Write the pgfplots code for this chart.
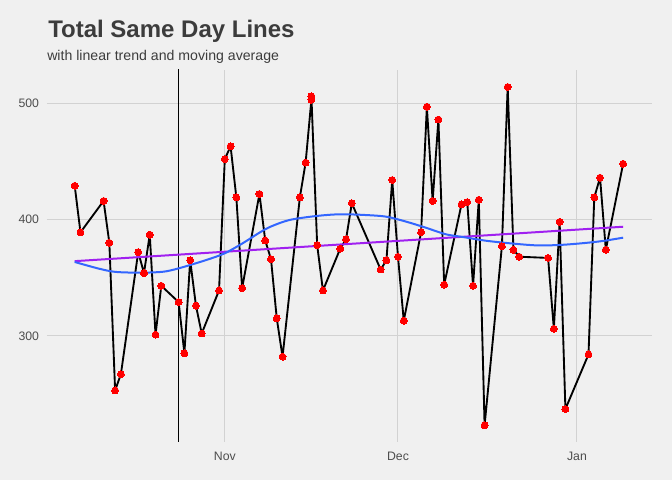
\documentclass[border=0pt]{standalone}
\usepackage{pgfplots}
\pgfplotsset{compat=1.18}
\usepackage{fontspec}
\setmainfont{Liberation Sans}
\definecolor{bg}{HTML}{F0F0F0}
\definecolor{gridc}{HTML}{D2D2D2}
\definecolor{titlec}{HTML}{3C3C3C}
\definecolor{tickc}{HTML}{4D4D4D}
\definecolor{smoothblue}{HTML}{3366FF}
\definecolor{trendpurple}{HTML}{A020F0}
\begin{document}
\begin{tikzpicture}
\fill[bg] (0,0) rectangle (504pt,360pt);
\node[anchor=base west, inner sep=0pt, text=titlec, font=\fontsize{18pt}{21pt}\selectfont\bfseries] at (36pt,331.7pt) {Total Same Day Lines};
\node[anchor=base west, inner sep=0pt, text=titlec, font=\fontsize{10.6pt}{12pt}\selectfont] at (35.25pt,314.5pt) {with linear trend and moving average};
\begin{axis}[
  at={(35.25pt,28.7pt)}, anchor=south west,
  scale only axis, width=453.75pt, height=278.8pt,
  xmin=-30.8, xmax=74, ymin=208.9, ymax=528.6,
  axis line style={draw=none},
  tick style={draw=none},
  xtick={0,30,61}, xticklabels={Nov,Dec,Jan},
  ytick={300,400,500},
  grid=major,
  major grid style={gridc, line width=0.75pt},
  ticklabel style={text=tickc, font=\fontsize{9.2pt}{11pt}\selectfont, inner sep=0pt},
  xticklabel style={anchor=north, yshift=-7.7pt},
  yticklabel style={anchor=east, xshift=-5.8pt},
  /pgf/number format/assume math mode=true,
  clip=true,
]
\addplot[black, line width=0.75pt] coordinates {(-8,150) (-8,600)};
\addplot[black, line width=1.4pt, line join=round, line cap=round, mark=*, mark size=2.6pt, mark options={fill=red, draw=red, line width=0pt}] coordinates {
(-26,429) (-25,389) (-21,416) (-20,380) (-19,253) (-18,267) (-15,372) (-14,354) (-13,387) (-12,301) (-11,343)
(-8,329) (-7,285) (-6,365) (-5,326) (-4,302) (-1,339) (0,452) (1,463) (2,419) (3,341)
(6,422) (7,382) (8,366) (9,315) (10,282) (13,419) (14,449) (15,503) (15,506) (16,378) (17,339)
(20,375) (21,383) (22,414) (27,357) (28,365) (29,434) (30,368) (31,313)
(34,389) (35,497) (36,416) (37,486) (38,344) (41,413) (42,415) (43,343) (44,417) (45,223)
(48,377) (49,514) (50,374) (51,368) (56,367) (57,306) (58,398) (59,237)
(63,284) (64,419) (65,436) (66,374) (69,448)
};
\addplot[trendpurple, line width=1.5pt] coordinates {(-26,364.2) (69,393.8)};
\addplot[smoothblue, line width=1.5pt, smooth] coordinates {
(-26,363.5) (-22,358) (-19,355) (-14.6,354.3) (-10.7,355.1) (-8,358) (-3.2,365.2) (0,371) (3.1,379.6) (6,388.7)
(8,394) (11.2,399.6) (15.8,403) (19.8,404.5) (23.9,404) (27.9,402.5) (31.4,398.2) (34.8,393) (38.3,387.3)
(41.2,385) (45.2,381.8) (49.3,379.6) (53.9,377.8) (57.9,378.1) (61.9,379.6) (65.4,381.5) (69,384.4)
};
\end{axis}
\end{tikzpicture}
\end{document}
